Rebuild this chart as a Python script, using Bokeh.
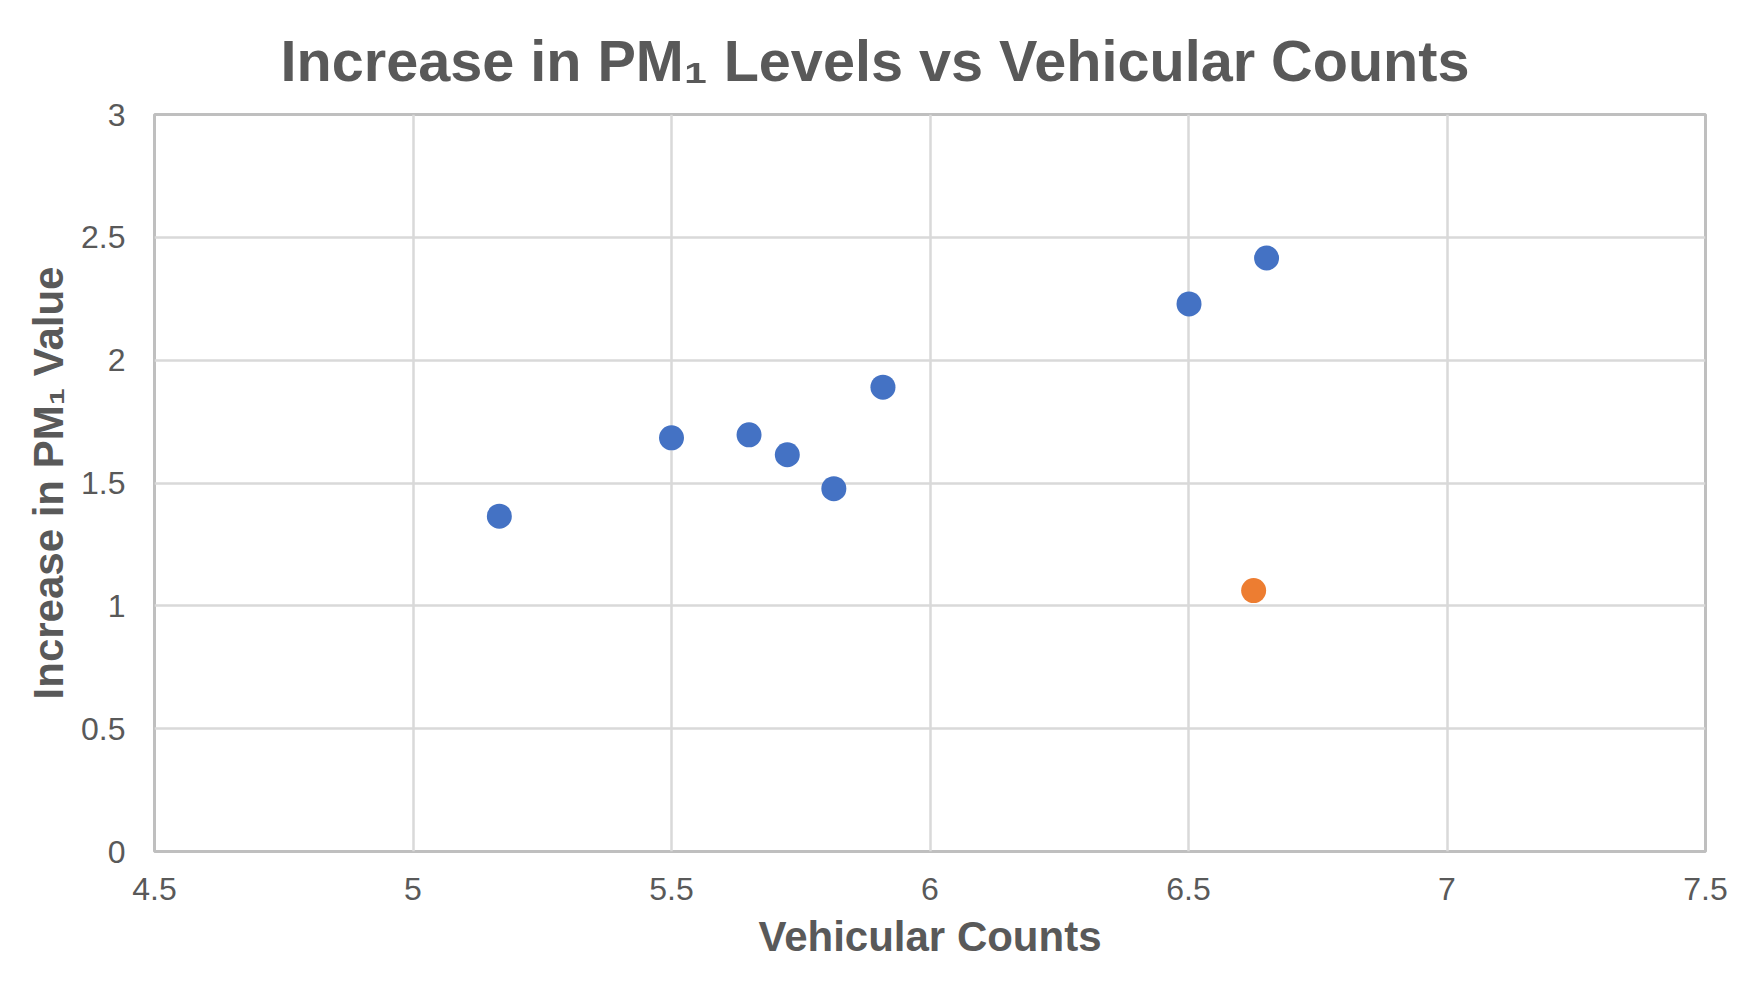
from bokeh.plotting import figure
from bokeh.models import Range1d, FixedTicker, ColumnDataSource, Title
from bokeh.embed import file_html
from bokeh.resources import INLINE

# ---- data ----
blue_x = [5.167, 5.500, 5.650, 5.724, 5.814, 5.909, 6.501, 6.651]
blue_y = [1.365, 1.684, 1.696, 1.615, 1.477, 1.890, 2.229, 2.416]
orange_x = [6.626]
orange_y = [1.062]

x_ticks = [4.5, 5.0, 5.5, 6.0, 6.5, 7.0, 7.5]
x_tick_labels = ["4.5", "5", "5.5", "6", "6.5", "7", "7.5"]
y_ticks = [0.0, 0.5, 1.0, 1.5, 2.0, 2.5, 3.0]
y_tick_labels = ["0", "0.5", "1", "1.5", "2", "2.5", "3"]

title_text = "Increase in PM\u2081 Levels vs Vehicular Counts"
x_label = "Vehicular Counts"
y_label = "Increase in PM\u2081 Value"

FONT = "Liberation Sans"
TXT = "#595959"

W, H = 1734, 972
p = figure(width=W, height=H, output_backend="svg", toolbar_location=None,
           x_range=Range1d(4.5, 7.5), y_range=Range1d(0, 3),
           min_border_left=154, min_border_right=29,
           min_border_top=114, min_border_bottom=121)
p.background_fill_color = "white"
p.border_fill_color = "white"
p.outline_line_color = "#bfbfbf"
p.outline_line_width = 3

for ax in (p.xaxis[0], p.yaxis[0]):
    ax.axis_line_color = None
    ax.major_tick_line_color = None
    ax.minor_tick_line_color = None
    ax.major_tick_out = 0
    ax.major_tick_in = 0
    ax.minor_tick_out = 0
    ax.minor_tick_in = 0
    ax.major_label_text_font = FONT
    ax.major_label_text_font_size = "32px"
    ax.major_label_text_color = TXT
    ax.axis_label_text_font = FONT
    ax.axis_label_text_font_size = "42px"
    ax.axis_label_text_font_style = "bold"
    ax.axis_label_text_color = TXT

p.xaxis.ticker = FixedTicker(ticks=x_ticks)
p.yaxis.ticker = FixedTicker(ticks=y_ticks)
p.xaxis.major_label_overrides = dict(zip(x_ticks, x_tick_labels))
p.yaxis.major_label_overrides = dict(zip(y_ticks, y_tick_labels))
p.xaxis.axis_label = x_label
p.yaxis.axis_label = y_label
p.xaxis.major_label_standoff = 26
p.xaxis.axis_label_standoff = 10
p.yaxis.major_label_standoff = 29
p.yaxis.axis_label_standoff = 6

p.xgrid.ticker = FixedTicker(ticks=x_ticks)
p.ygrid.ticker = FixedTicker(ticks=y_ticks)
p.xgrid.grid_line_color = "#d9d9d9"
p.ygrid.grid_line_color = "#d9d9d9"
p.xgrid.grid_line_width = 2.5
p.ygrid.grid_line_width = 2.5

src_b = ColumnDataSource(dict(x=blue_x, y=blue_y))
src_o = ColumnDataSource(dict(x=orange_x, y=orange_y))
p.scatter("x", "y", source=src_b, size=25, fill_color="#4472C4", line_color=None)
p.scatter("x", "y", source=src_o, size=25, fill_color="#ED7D31", line_color=None)

title = Title(text=title_text, align="left", offset=126, standoff=44,
              text_font=FONT, text_font_size="57.6px", text_font_style="bold",
              text_color=TXT)
p.add_layout(title, "above")

open("out.html", "w").write(file_html(p, INLINE))
